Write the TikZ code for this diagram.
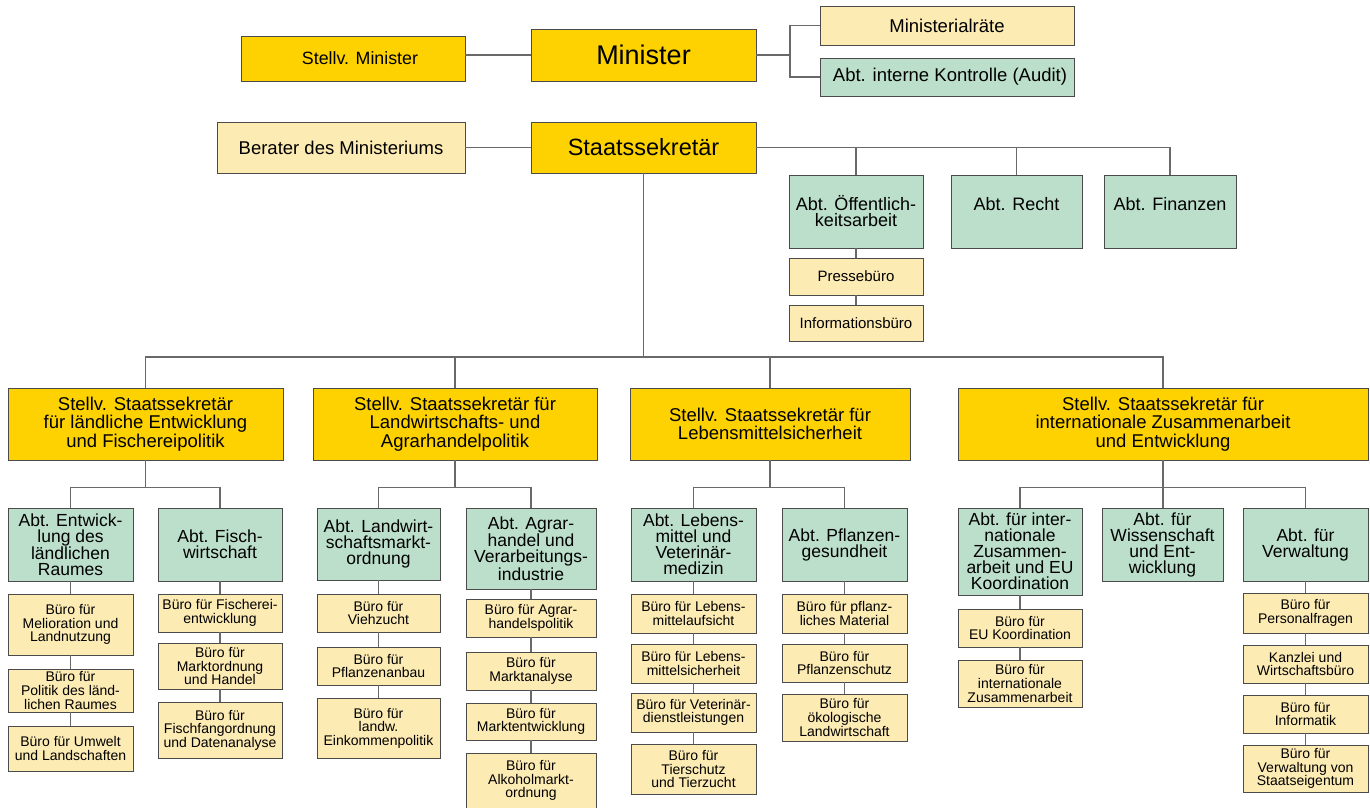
\documentclass[tikz,border=0pt]{standalone}
\usepackage{fontspec}
\setmainfont{Liberation Sans}
\usepackage{xcolor}
\usepackage{tikz}

\definecolor{gold}{RGB}{253,210,0}
\definecolor{pale}{RGB}{253,235,180}
\definecolor{mint}{RGB}{187,223,203}
\definecolor{boxline}{RGB}{75,75,75}
\definecolor{linegray}{RGB}{105,105,105}

\tikzset{
  box/.style={draw=boxline, line width=0.9pt, align=center, inner sep=1pt},
  wh/.style 2 args={minimum width=#1, minimum height=#2},
  chef/.style={box, fill=gold},
  rat/.style={box, fill=pale, font=\fontsize{18.5}{17}\selectfont},
  stv/.style={box, fill=gold, font=\fontsize{18.5}{18.3}\selectfont},
  abt/.style={box, fill=mint, font=\fontsize{17.5}{16}\selectfont},
  buero/.style={box, fill=pale, font=\fontsize{14}{13.6}\selectfont},
  link/.style={draw=linegray, line width=1.2pt},
}

\begin{document}
\begin{tikzpicture}[x=1pt, y=-1pt]
                \useasboundingbox (0,0) rectangle (1370,808);

                % Leitung
                \node[chef, wh={225}{52}, font=\fontsize{27}{27}\selectfont] (min) at (643.5,55) {Minister};
                \node[chef, wh={224}{45}, font=\fontsize{17.8}{17}\selectfont] (smin) at (353,58.5) {\hspace*{14pt}Stellv. Minister};
                \node[rat, wh={254}{39}] (mr) at (947,25.5) {Ministerialräte};
                \node[rat, wh={254}{38}, fill=mint] (audit) at (947,77) {\hspace*{6pt}Abt. interne Kontrolle (Audit)};
                \node[chef, wh={225}{51}, font=\fontsize{23.5}{23}\selectfont] (sts) at (643.5,147.5) {Staatssekretär};
                \node[rat, wh={248}{51}] (ber) at (341,147.5) {Berater des Ministeriums};

                % Abteilungen beim Staatssekretaer
                \node[abt, wh={134}{73}, font=\fontsize{18}{16}\selectfont] (oeff) at (856,211.5) {Abt. Öffentlich-\\keitsarbeit};
                \node[abt, wh={131}{73}, font=\fontsize{18}{16}\selectfont] (recht) at (1016.5,211.5) {Abt. Recht\\};
                \node[abt, wh={132}{73}, font=\fontsize{18}{16}\selectfont] (fin) at (1170,211.5) {Abt. Finanzen\\};
                \node[buero, wh={134}{37}, font=\fontsize{15}{15}\selectfont] (presse) at (856,276.5) {Pressebüro};
                \node[buero, wh={134}{36}, font=\fontsize{15}{15}\selectfont] (info) at (856,323) {Informationsbüro};

                % Stellvertreter
                \node[stv, wh={275}{72}] (d1) at (145.5,424) {Stellv. Staatssekretär\\für ländliche Entwicklung\\und Fischereipolitik};
                \node[stv, wh={284}{72}] (d2) at (455,424) {Stellv. Staatssekretär für\\Landwirtschafts- und\\Agrarhandelpolitik};
                \node[stv, wh={280}{72}] (d3) at (770,424) {Stellv. Staatssekretär für\\Lebensmittelsicherheit};
                \node[stv, wh={410}{72}] (d4) at (1163,424) {Stellv. Staatssekretär für\\internationale Zusammenarbeit\\und Entwicklung};

                % Abteilungen
                \node[abt, wh={125}{73}] (a11) at (70.5,544.5) {Abt. Entwick-\\lung des\\ländlichen\\Raumes};
                \node[abt, wh={124}{73}] (a12) at (220,544.5) {Abt. Fisch-\\wirtschaft};
                \node[abt, wh={123}{72}] (a21) at (378.5,544) {Abt. Landwirt-\\schaftsmarkt-\\ordnung};
                \node[abt, wh={130}{81}] (a22) at (531,548.5) {Abt. Agrar-\\handel und\\Verarbeitungs-\\industrie};
                \node[abt, wh={125}{73}] (a31) at (693.5,544.5) {Abt. Lebens-\\mittel und\\Veterinär-\\medizin};
                \node[abt, wh={125}{73}] (a32) at (844.5,544.5) {Abt. Pflanzen-\\gesundheit};
                \node[abt, wh={124}{87}] (a41) at (1020,551.5) {Abt. für inter-\\nationale\\Zusammen-\\arbeit und EU\\Koordination};
                \node[abt, wh={121}{73}] (a42) at (1162.5,544.5) {Abt. für\\Wissenschaft\\und Ent-\\wicklung};
                \node[abt, wh={125}{73}] (a43) at (1305.5,544.5) {Abt. für\\Verwaltung};

                % Bueros
                \node[buero, wh={125}{61}] (b111) at (70.5,624.5) {Büro für\\Melioration und\\Landnutzung};
                \node[buero, wh={125}{43}] (b112) at (70.5,690.5) {Büro für\\Politik des länd-\\lichen Raumes};
                \node[buero, wh={125}{45}] (b113) at (70.5,748.5) {Büro für Umwelt\\und Landschaften};
                \node[buero, wh={124}{38}] (b121) at (220,613) {Büro für Fischerei-\\entwicklung};
                \node[buero, wh={124}{46}] (b122) at (220,666) {Büro für\\Marktordnung\\und Handel};
                \node[buero, wh={124}{56}] (b123) at (220,730) {Büro für\\Fischfangordnung\\und Datenanalyse};

                \node[buero, wh={123}{38}] (b211) at (378.5,613) {Büro für\\Viehzucht};
                \node[buero, wh={123}{38}] (b212) at (378.5,666) {Büro für\\Pflanzenanbau};
                \node[buero, wh={123}{60}] (b213) at (378.5,728) {Büro für\\landw.\\Einkommenpolitik};
                \node[buero, wh={130}{38}] (b221) at (531,618) {Büro für Agrar-\\handelspolitik};
                \node[buero, wh={130}{38}] (b222) at (531,671) {Büro für\\Marktanalyse};
                \node[buero, wh={130}{37}] (b223) at (531,721.5) {Büro für\\Marktentwicklung};
                \node[buero, wh={130}{55}] (b224) at (531,780.5) {Büro für\\Alkoholmarkt-\\ordnung};

                \node[buero, wh={125}{39}] (b311) at (693.5,613.5) {Büro für Lebens-\\mittelaufsicht};
                \node[buero, wh={125}{39}] (b312) at (693.5,663.5) {Büro für Lebens-\\mittelsicherheit};
                \node[buero, wh={125}{39}] (b313) at (693.5,712.5) {Büro für Veterinär-\\dienstleistungen};
                \node[buero, wh={125}{50}] (b314) at (693.5,769) {Büro für\\Tierschutz\\und Tierzucht};
                \node[buero, wh={125}{39}] (b321) at (844.5,613.5) {Büro für pflanz-\\liches Material};
                \node[buero, wh={125}{38}] (b322) at (844.5,663) {Büro für\\Pflanzenschutz};
                \node[buero, wh={125}{47}] (b323) at (844.5,717.5) {Büro für\\ökologische\\Landwirtschaft};

                \node[buero, wh={124}{38}] (b411) at (1020,628) {Büro für\\EU Koordination};
                \node[buero, wh={124}{47}] (b412) at (1020,683.5) {Büro für\\internationale\\Zusammenarbeit};
                \node[buero, wh={125}{40}] (b431) at (1305.5,613) {Büro für\\Personalfragen};
                \node[buero, wh={125}{38}] (b432) at (1305.5,664) {Kanzlei und\\Wirtschaftsbüro};
                \node[buero, wh={125}{38}] (b433) at (1305.5,714) {Büro für\\Informatik};
                \node[buero, wh={125}{47}] (b434) at (1305.5,768.5) {Büro für\\Verwaltung von\\Staatseigentum};

                % Linien oben
                \coordinate (mfork) at (790,55);
                \draw[link] (min.west) -- (min.west -| smin.east);
                \draw[link] (min.east) -- (mfork);
                \draw[link] (mr.west) -| (mfork) |- (audit.west);
                \draw[link] (sts.west) -- (ber.east);
                \draw[link] (sts.east) -| (fin.north);
                \draw[link] (oeff.north) -- (oeff.north |- sts.east);
                \draw[link] (recht.north) -- (recht.north |- sts.east);
                \draw[link] (oeff.south) -- (presse.north);
                \draw[link] (presse.south) -- (info.north);

                % Linien zu den Stellvertretern
                \coordinate (hub) at (643.5,357);
                \draw[link] (sts.south) -- (hub);
                \draw[link] (d1.north) |- (hub) -| (d4.north);
                \draw[link] (d2.north) -- (d2.north |- hub);
                \draw[link] (d3.north) -- (d3.north |- hub);

                % Linien zu den Abteilungen
                \draw[link] (d1.south) -- ++(0,27) coordinate (h1);
                \draw[link] (a11.north) |- (h1) -| (a12.north);
                \draw[link] (d2.south) -- ++(0,27) coordinate (h2);
                \draw[link] (a21.north) |- (h2) -| (a22.north);
                \draw[link] (d3.south) -- ++(0,27) coordinate (h3);
                \draw[link] (a31.north) |- (h3) -| (a32.north);
                \draw[link] (d4.south) -- (d4.south |- a42.north);
                \path (d4.south) ++(0,27) coordinate (h4);
                \draw[link] (a41.north) |- (h4) -| (a43.north);

                % Bueros untereinander
                \foreach \top/\bot in {a11/b111, b111/b112, b112/b113, a12/b121, b121/b122, b122/b123,
                    a21/b211, b211/b212, b212/b213, a22/b221, b221/b222, b222/b223, b223/b224,
                    a31/b311, b311/b312, b312/b313, b313/b314, a32/b321, b321/b322, b322/b323,
                    a41/b411, b411/b412, a43/b431, b431/b432, b432/b433, b433/b434}
                    \draw[link] (\top.south) -- (\bot.north);
            \end{tikzpicture}
\end{document}
